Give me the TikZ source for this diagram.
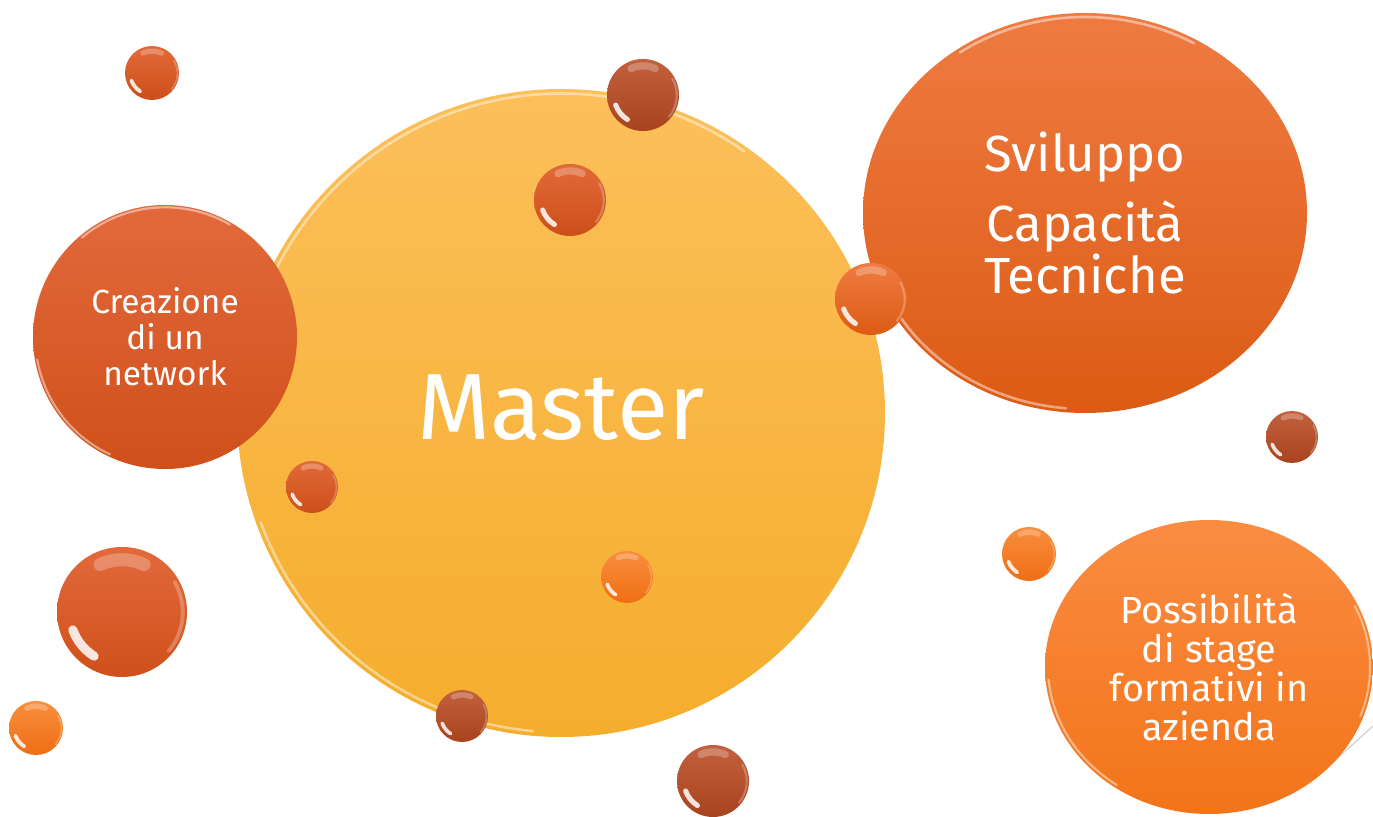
\documentclass[tikz,border=0pt]{standalone}
\usepackage{fontspec}
\setmainfont{Fira Sans}
\usetikzlibrary{calc,shapes.geometric}

\definecolor{masterA}{HTML}{FCBF5A}
\definecolor{masterB}{HTML}{F5AD2C}
\definecolor{netA}{HTML}{E3693C}
\definecolor{netB}{HTML}{CF501A}
\definecolor{skillA}{HTML}{EF7B42}
\definecolor{skillB}{HTML}{DC5B14}
\definecolor{stageA}{HTML}{FA8C42}
\definecolor{stageB}{HTML}{F37419}
\definecolor{brickA}{HTML}{C2613E}
\definecolor{brickB}{HTML}{A9431F}
\definecolor{rustA}{HTML}{E26A38}
\definecolor{rustB}{HTML}{CC4F1A}
\definecolor{amberA}{HTML}{F98E3E}
\definecolor{amberB}{HTML}{F06E14}

\tikzset{
  bubble/.style={circle,inner sep=0pt,top color=#1A,bottom color=#1B},
  blob/.style={ellipse,inner sep=0pt,top color=#1A,bottom color=#1B},
  bubbletext/.style={text=white,align=center},
  rim/.style={white,opacity=.45,line cap=round},
  glint/.style={white,opacity=.85,line cap=round},
  sheen/.style={white,opacity=.25,line cap=round}
}

\begin{document}
\begin{tikzpicture}[x=0.5pt,y=-0.5pt]
  \fill[white] (0,0) rectangle (1373,817);
  \useasboundingbox (0,0) rectangle (1373,817);

  % central disc
  \node[bubble=master,minimum size=324pt] (master) at (561,413) {};
  \node[bubbletext,font=\fontsize{47}{47}\selectfont] (mastertxt)
    at (561,408) {Master};
  \draw[rim,line width=1.3pt] ($(master.center)!0.985!(master.55)$)
    arc[start angle=55,end angle=165,radius=159.6pt];
  \draw[rim,line width=1.3pt] ($(master.center)!0.985!(master.200)$)
    arc[start angle=200,end angle=265,radius=159.6pt];

  % the three themes
  \node[bubble=net,minimum size=132pt,bubbletext,
        font=\fontsize{16.7}{18}\selectfont] (network) at (165,337)
    {Creazione\\di un\\network};
  \draw[rim,line width=1.1pt] ($(network.center)!0.98!(network.60)$)
    arc[start angle=60,end angle=130,radius=64.7pt];
  \draw[rim,line width=1.1pt] ($(network.center)!0.98!(network.190)$)
    arc[start angle=190,end angle=245,radius=64.7pt];

  \node[blob=skill,minimum width=222pt,minimum height=200pt,bubbletext,
        font=\fontsize{25.4}{25}\selectfont] (skills) at (1085,213)
    {Sviluppo\\[8pt]Capacità\\Tecniche};
  \draw[rim,line width=1.3pt] ($(skills.center)+(60:109pt and 98pt)$)
    arc[start angle=60,end angle=125,x radius=109pt,y radius=98pt];
  \draw[rim,line width=1.3pt] ($(skills.center)+(205:109pt and 98pt)$)
    arc[start angle=205,end angle=265,x radius=109pt,y radius=98pt];

  \coordinate (g1) at (1330,765);
  \coordinate (g2) at (1373,726);
  \draw[gray!35,line width=0.6pt] (g1) -- (g2);

  \node[blob=stage,minimum width=164pt,minimum height=147pt,bubbletext,
        font=\fontsize{18.9}{19.5}\selectfont] (stage) at (1209,667)
    {Possibilità\\di stage\\formativi in\\azienda};
  \draw[rim,line width=1.1pt] ($(stage.center)+(185:80.5pt and 72pt)$)
    arc[start angle=185,end angle=235,x radius=80.5pt,y radius=72pt];
  \draw[rim,line width=1pt] ($(stage.center)+(-20:80.5pt and 72pt)$)
    arc[start angle=-20,end angle=25,x radius=80.5pt,y radius=72pt];

  % small drops
  \foreach \nm/\x/\y/\r/\tone in {d1/152/73/27/rust, d2/643/95/36/brick,
      d3/570/200/36/rust, d4/871/299/36/skill, d5/312/487/26/rust,
      d6/627/577/26/amber, d7/122/612/65/net, d8/36/728/27/amber,
      d9/462/716/26/brick, d10/713/781/36/brick, d11/1292/437/26/brick,
      d12/1029/554/27/amber} {
    \node[bubble=\tone,minimum size=\r*1pt] (\nm) at (\x,\y) {};
    \draw[glint,line width=\r*0.07pt] ($(\nm.center)!0.8!(\nm.200)$)
      arc[start angle=200,end angle=238,radius=\r*0.4pt];
    \draw[sheen,line width=\r*0.1pt] ($(\nm.center)!0.8!(\nm.65)$)
      arc[start angle=65,end angle=115,radius=\r*0.4pt];
    \draw[sheen,line width=\r*0.03pt] ($(\nm.center)!0.93!(\nm.-40)$)
      arc[start angle=-40,end angle=30,radius=\r*0.465pt];
  }
\end{tikzpicture}
\end{document}
